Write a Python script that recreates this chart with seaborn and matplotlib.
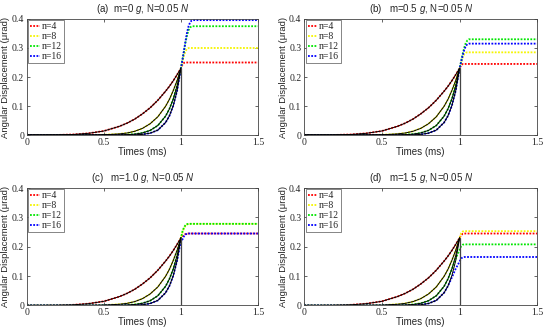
import numpy as np
import pandas as pd
import seaborn as sns
import matplotlib.pyplot as plt

# times before the impulse ends (ms)
t_pre = [0, 0.1, 0.2, 0.3, 0.4, 0.5, 0.6, 0.65, 0.7, 0.75, 0.8, 0.85, 0.9, 0.925, 0.95, 0.975, 1.0]
# solid (black) curves, same in all four panels
y_pre_n4 = [0, 0, 0.0004, 0.002, 0.006, 0.014, 0.030, 0.041, 0.055, 0.073, 0.094, 0.120, 0.151, 0.168, 0.187, 0.208, 0.23]
y_pre_n8 = [0, 0, 0, 0, 0.0002, 0.0009, 0.004, 0.007, 0.013, 0.023, 0.039, 0.063, 0.099, 0.123, 0.153, 0.188, 0.23]
y_pre_n12 = [0, 0, 0, 0, 0, 0.0001, 0.0005, 0.0013, 0.0032, 0.0073, 0.016, 0.033, 0.065, 0.090, 0.124, 0.170, 0.23]
y_pre_n16 = [0, 0, 0, 0, 0, 0, 0.0001, 0.0002, 0.0008, 0.0023, 0.0065, 0.017, 0.043, 0.066, 0.101, 0.153, 0.23]

# times after the impulse (ms)
t_post = [1.0, 1.01, 1.02, 1.03, 1.04, 1.05, 1.06, 1.07, 1.08, 1.5]

# (a) m=0 g
a_n4 = [0.23, 0.243, 0.249, 0.25, 0.25, 0.25, 0.25, 0.25, 0.25, 0.25]
a_n8 = [0.23, 0.255, 0.275, 0.290, 0.297, 0.30, 0.30, 0.30, 0.30, 0.30]
a_n12 = [0.23, 0.26, 0.29, 0.32, 0.345, 0.362, 0.371, 0.375, 0.375, 0.375]
a_n16 = [0.23, 0.26, 0.292, 0.325, 0.355, 0.376, 0.389, 0.395, 0.396, 0.396]
# (b) m=0.5 g
b_n4 = [0.23, 0.240, 0.245, 0.245, 0.245, 0.245, 0.245, 0.245, 0.245, 0.245]
b_n8 = [0.23, 0.250, 0.268, 0.279, 0.284, 0.285, 0.285, 0.285, 0.285, 0.285]
b_n12 = [0.23, 0.255, 0.280, 0.302, 0.318, 0.326, 0.33, 0.33, 0.33, 0.33]
b_n16 = [0.23, 0.253, 0.275, 0.294, 0.307, 0.313, 0.315, 0.315, 0.315, 0.315]
# (c) m=1.0 g
c_n4 = [0.23, 0.236, 0.241, 0.243, 0.244, 0.245, 0.245, 0.245, 0.245, 0.245]
c_n8 = [0.23, 0.250, 0.264, 0.272, 0.276, 0.278, 0.278, 0.278, 0.278, 0.278]
c_n12 = [0.23, 0.252, 0.266, 0.274, 0.277, 0.278, 0.278, 0.278, 0.278, 0.278]
c_n16 = [0.21, 0.225, 0.236, 0.242, 0.244, 0.245, 0.245, 0.245, 0.245, 0.245]
# (d) m=1.5 g
d_n4 = [0.23, 0.240, 0.244, 0.245, 0.245, 0.245, 0.245, 0.245, 0.245, 0.245]
d_n8 = [0.23, 0.246, 0.252, 0.253, 0.253, 0.253, 0.253, 0.253, 0.253, 0.253]
d_n12 = [0.19, 0.202, 0.207, 0.208, 0.208, 0.208, 0.208, 0.208, 0.208, 0.208]
d_n16 = [0.15, 0.160, 0.164, 0.165, 0.165, 0.165, 0.165, 0.165, 0.165, 0.165]
# in (d) the dotted n=12 / n=16 curves leave the solid ones just before 1 ms
d_pre_n12_tail = [0.124, 0.160, 0.19]
d_pre_n16_tail = [0.095, 0.125, 0.15]

labels = ["n=4", "n=8", "n=12", "n=16"]
colors = ["#ff0000", "#f5f500", "#00e600", "#0000ff"]
titles = ["(a)  m=0 $g$, N=0.05 $N$", "(b)   m=0.5 $g$, N=0.05 $N$",
          "(c)   m=1.0 $g$, N=0.05 $N$", "(d)   m=1.5 $g$, N=0.05 $N$"]
post = [[a_n4, a_n8, a_n12, a_n16], [b_n4, b_n8, b_n12, b_n16],
        [c_n4, c_n8, c_n12, c_n16], [d_n4, d_n8, d_n12, d_n16]]
pre = [y_pre_n4, y_pre_n8, y_pre_n12, y_pre_n16]

sns.set_style("ticks")
plt.rcParams['font.family'] = ['Liberation Sans', 'DejaVu Sans']
plt.rcParams['mathtext.fontset'] = 'custom'
plt.rcParams['mathtext.rm'] = 'Liberation Sans'
plt.rcParams['mathtext.it'] = 'Liberation Sans:italic'

fig = plt.figure(figsize=(5.5, 3.27), dpi=100)
positions = [[0.049, 0.587, 0.42, 0.355], [0.553, 0.587, 0.424, 0.355],
             [0.049, 0.066, 0.42, 0.359], [0.553, 0.066, 0.424, 0.359]]

for p in range(4):
    ax = fig.add_axes(positions[p])
    for k in range(4):
        y_dot = list(pre[k])
        if p == 3 and k == 2:
            y_dot = y_dot[:-3] + d_pre_n12_tail
        if p == 3 and k == 3:
            y_dot = y_dot[:-3] + d_pre_n16_tail
        df = pd.DataFrame({"t": t_pre + t_post, "y": y_dot + post[p][k]})
        sns.lineplot(data=df, x="t", y="y", ax=ax, color=colors[k], linestyle=(0, (1, 0.8)),
                     linewidth=1.3, sort=False, label=labels[k])
    for k in range(4):
        sns.lineplot(x=t_pre, y=pre[k], ax=ax, color="black", linewidth=0.7)
    ax.plot([1, 1], [0, 0.23], color="#444444", linewidth=0.9)

    ax.set_xlim(0, 1.5)
    ax.set_ylim(0, 0.4)
    ax.set_xticks([0, 0.5, 1, 1.5])
    ax.set_xticklabels(["0", "0.5", "1", "1.5"])
    ax.set_yticks([0, 0.1, 0.2, 0.3, 0.4])
    ax.set_yticklabels(["0", "0.1", "0.2", "0.3", "0.4"])
    for lab in ax.get_xticklabels() + ax.get_yticklabels():
        lab.set_fontfamily("Liberation Serif")
        lab.set_fontsize(7)
    ax.tick_params(direction="in", length=2.5, width=0.5, top=True, right=True, pad=2)
    for s in ax.spines.values():
        s.set_linewidth(0.6)
        s.set_color("#444444")
    ax.set_xlabel("Times (ms)", fontsize=7, labelpad=0)
    ax.set_ylabel("Angular Displacement (μrad)", fontsize=6.8, labelpad=1)
    ax.set_title(titles[p], fontsize=7, pad=5)
    leg = ax.legend(loc="upper left", prop={"family": "Liberation Serif", "size": 7},
                    fancybox=False, edgecolor="#555555", framealpha=1, handlelength=1.0,
                    handletextpad=0.2, labelspacing=0.1, borderpad=0.2, borderaxespad=0.15)
    leg.get_frame().set_linewidth(0.5)
    ax.grid(False)

fig.savefig("out.png", dpi=100)
